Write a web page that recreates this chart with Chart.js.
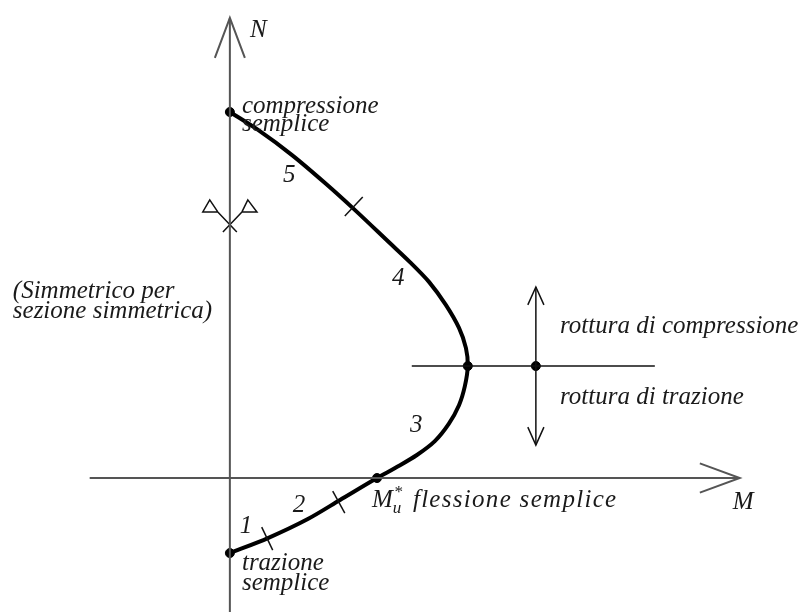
<!doctype html>
<html lang="it">
    <head>
        <meta charset="UTF-8" />
        <title>Dominio M-N</title>
        <style>
            html, body { margin: 0; padding: 0; background: #fff; }
            #wrap { width: 806px; height: 612px; position: relative; }
        </style>
    </head>
    <body>
        <div id="wrap"><canvas id="chart"></canvas></div>

        <script src="https://cdn.jsdelivr.net/npm/chart.js@4"></script>
        <script>
            // units: M and N divided by the simple-compression resistance
            const curveM = [0, 0.077, 0.169, 0.26, 0.342, 0.437, 0.492, 0.544, 0.59, 0.626, 0.645, 0.65,
                            0.642, 0.626, 0.598, 0.56, 0.511, 0.456, 0.402, 0.301, 0.213, 0.104, 0];
            const curveN = [1.0, 0.951, 0.883, 0.806, 0.732, 0.642, 0.59, 0.536, 0.473, 0.41, 0.355, 0.306,
                            0.251, 0.199, 0.148, 0.101, 0.063, 0.03, 0, -0.06, -0.112, -0.164, -0.205];

            // special points: compressione, max, legend point, flessione, trazione
            const dotM = [0, 0.65, 0.836, 0.402, 0];
            const dotN = [1.0, 0.306, 0.306, 0, -0.205];

            // small dashes splitting the regions 1..5
            const regionTicks = [
                [[0.314, 0.716], [0.363, 0.768]],
                [[0.281, -0.036], [0.314, -0.096]],
                [[0.087, -0.134], [0.117, -0.197]],
            ];

            const axisLines = [
                [[0, -0.37], [0, 1.257]],
                [[-0.041, 1.148], [0, 1.257], [0.041, 1.148]],
                [[-0.383, 0], [1.393, 0]],
                [[1.284, 0.04], [1.393, 0], [1.284, -0.04]],
            ];

            const legendLines = [
                [[0.497, 0.306], [1.161, 0.306]],
                [[0.836, 0.522], [0.836, 0.09]],
                [[0.814, 0.473], [0.836, 0.522], [0.858, 0.473]],
                [[0.814, 0.139], [0.836, 0.09], [0.858, 0.139]],
            ];

            // symmetry symbol on the N axis
            const symmetryLines = [
                [[-0.033, 0.727], [-0.055, 0.76], [-0.074, 0.727], [-0.033, 0.727], [0.019, 0.672]],
                [[0.033, 0.727], [0.049, 0.76], [0.074, 0.727], [0.033, 0.727], [-0.019, 0.672]],
            ];

            const labelText = ["N", "compressione", "semplice", "5", "4", "3", "2", "1", "trazione", "semplice",
                               "M", "u", "*", "flessione semplice", "M", "(Simmetrico per", "sezione simmetrica)",
                               "rottura di compressione", "rottura di trazione"];
            const labelM = [0.055, 0.033, 0.033, 0.145, 0.443, 0.492, 0.172, 0.027, 0.033, 0.033,
                            0.388, 0.445, 0.448, 0.5, 1.374, -0.593, -0.593, 0.902, 0.902];
            const labelN = [1.205, 0.997, 0.948, 0.809, 0.527, 0.126, -0.093, -0.15, -0.251, -0.306,
                            -0.079, -0.096, -0.052, -0.079, -0.085, 0.492, 0.437, 0.396, 0.202];

            function toPoints(arr) {
                return arr.map((p) => ({ x: p[0], y: p[1] }));
            }

            function lineSets(groups, color, width) {
                return groups.map((g) => ({
                    data: toPoints(g),
                    borderColor: color,
                    borderWidth: width,
                    pointRadius: 0,
                    tension: 0,
                    fill: false,
                }));
            }

            // index of the subscript / superscript of M_u*
            const smallLabels = [11, 12];
            const wideLabel = 13;

            const textPlugin = {
                id: "texts",
                afterDatasetsDraw(chart) {
                    const ctx = chart.ctx;
                    const xs = chart.scales.x;
                    const ys = chart.scales.y;
                    ctx.save();
                    ctx.fillStyle = "#1a1a1a";
                    ctx.textAlign = "left";
                    ctx.textBaseline = "alphabetic";
                    for (let i = 0; i < labelText.length; i++) {
                        const size = smallLabels.includes(i) ? 17 : 25;
                        ctx.font = "italic " + size + "px 'Liberation Serif'";
                        ctx.letterSpacing = i === wideLabel ? "1.3px" : "0px";
                        ctx.fillText(labelText[i], xs.getPixelForValue(labelM[i]), ys.getPixelForValue(labelN[i]));
                    }
                    ctx.restore();
                },
            };

            const datasets = [
                ...lineSets(axisLines, "#555", 2),
                ...lineSets(legendLines, "#111", 1.5),
                ...lineSets(symmetryLines, "#111", 1.5),
                ...lineSets(regionTicks, "#111", 1.5),
                {
                    data: curveM.map((m, i) => ({ x: m, y: curveN[i] })),
                    borderColor: "#000",
                    borderWidth: 4,
                    pointRadius: 0,
                    tension: 0.3,
                    fill: false,
                },
                {
                    data: dotM.map((m, i) => ({ x: m, y: dotN[i] })),
                    showLine: false,
                    pointRadius: 4.5,
                    pointBackgroundColor: "#000",
                    pointBorderColor: "#000",
                },
            ];

            new Chart(document.getElementById("chart").getContext("2d"), {
                type: "line",
                data: { datasets: datasets },
                options: {
                    responsive: true,
                    maintainAspectRatio: false,
                    animation: false,
                    layout: { padding: 0, autoPadding: false },
                    plugins: { legend: { display: false }, tooltip: { enabled: false } },
                    scales: {
                        x: { type: "linear", min: -0.628, max: 1.574, display: false },
                        y: { type: "linear", min: -0.366, max: 1.306, display: false },
                    },
                },
                plugins: [textPlugin],
            });
        </script>
    </body>
</html>
